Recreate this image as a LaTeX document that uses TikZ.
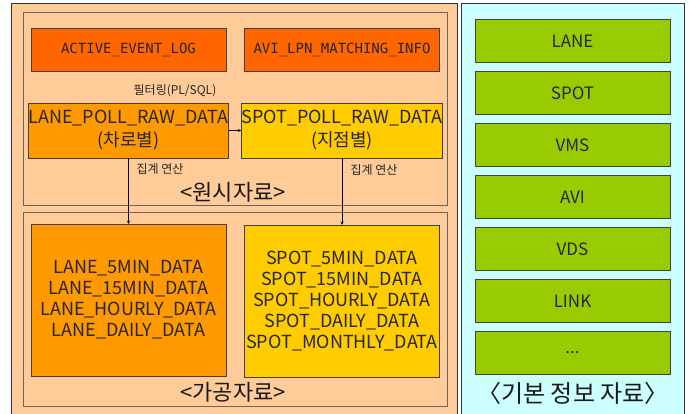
\documentclass[tikz,border=0pt]{standalone}
\usepackage{fontspec}
\setmainfont{Noto Sans CJK KR}
\newfontfamily\monofont{DejaVu Sans Mono}
\usetikzlibrary{positioning}
\definecolor{peach}{HTML}{FFCC99}
\definecolor{rawred}{HTML}{FF6600}
\definecolor{laneorange}{HTML}{FF9900}
\definecolor{spotyellow}{HTML}{FFCC00}
\definecolor{infogreen}{HTML}{99CC00}
\definecolor{infocyan}{HTML}{CCFFFF}

\begin{document}
\begin{tikzpicture}[
        x=1pt, y=-1pt,
        >=stealth,
        panel/.style={draw=black!60, fill=peach, minimum width=424pt, inner sep=0pt},
        tab/.style={draw=black!75, inner sep=0pt, align=center, text=black!85},
        rawtab/.style={tab, fill=rawred, minimum width=195pt, minimum height=43pt, font=\monofont\fontsize{14}{17}\selectfont},
        polltab/.style={tab, minimum width=195pt, minimum height=55pt, font=\fontsize{18}{23}\selectfont},
        aggtab/.style={tab, minimum width=195pt, minimum height=152pt, font=\fontsize{18}{21}\selectfont},
        infotab/.style={tab, fill=infogreen, minimum width=195pt, minimum height=43pt, font=\fontsize{17}{20}\selectfont},
        note/.style={font=\fontsize{12}{14}\selectfont, text=black!85},
        caption/.style={font=\fontsize{22}{26}\selectfont, text=black!90},
    ]
    \useasboundingbox (0,0) rectangle (689,414);

        % Draw the two background panels
        \draw[black!80, fill=peach] (11,418) -- (11,3) -- (457,3) -- (457,418) -- cycle;
        \draw[black!80, fill=infocyan] (461,418) -- (461,3) -- (684,3) -- (684,418) -- cycle;

        % Raw data and processed data panels
        \node[panel, minimum height=193pt] (raw) at (235,108.5) {};
        \node[panel, minimum height=194pt] (proc) at (235,309) {};

        % Draw the raw tables
        \node[rawtab] (event) at (128.5,49.5) {ACTIVE\_EVENT\_LOG};
        \node[rawtab] (avi) at (342,49.5) {AVI\_LPN\_MATCHING\_INFO};
        \node[polltab, fill=laneorange] (lanepoll) at (128.5,130.5) {LANE\_POLL\_RAW\_DATA\\(차로별)};
        \node[polltab, fill=spotyellow] (spotpoll) at (342,130.5) {SPOT\_POLL\_RAW\_DATA\\(지점별)};

        % Draw the aggregated tables
        \node[aggtab, fill=laneorange] (laneagg) at (128.5,300) {LANE\_5MIN\_DATA\\LANE\_15MIN\_DATA\\LANE\_HOURLY\_DATA\\LANE\_DAILY\_DATA};
        \node[aggtab, fill=spotyellow] (spotagg) at (342,301) {SPOT\_5MIN\_DATA\\SPOT\_15MIN\_DATA\\SPOT\_HOURLY\_DATA\\SPOT\_DAILY\_DATA\\SPOT\_MONTHLY\_DATA};

        % Connect the tables
        \draw[->] (lanepoll) -- (spotpoll);
        \draw[->] (lanepoll.south) -- (laneagg.north);
        \draw[->] (spotpoll.south) -- (spotagg.north);

        \node[note] (filter) at (175,91) {필터링(PL/SQL)};
        \node[note, anchor=west] (sumlane) at (133,169) {집계 연산};
        \node[note, anchor=west] (sumspot) at (347,170) {집계 연산};

        \node[caption] (rawcap) at (233,192) {<원시자료>};
        \node[caption] (proccap) at (233,392) {<가공자료>};

        % Draw the base information tables
        \foreach \name [count=\i] in {LANE, SPOT, VMS, AVI, VDS, LINK}
            \node[infotab] (B-\i) at (572.5,-11+52*\i) {\name};
        \node[infotab] (B-7) at (572.5,353) {...};

        \node[caption, font=\fontsize{24}{28}\selectfont] (basecap) at (573,393) {〈기본 정보 자료〉};
    \end{tikzpicture}
\end{document}
